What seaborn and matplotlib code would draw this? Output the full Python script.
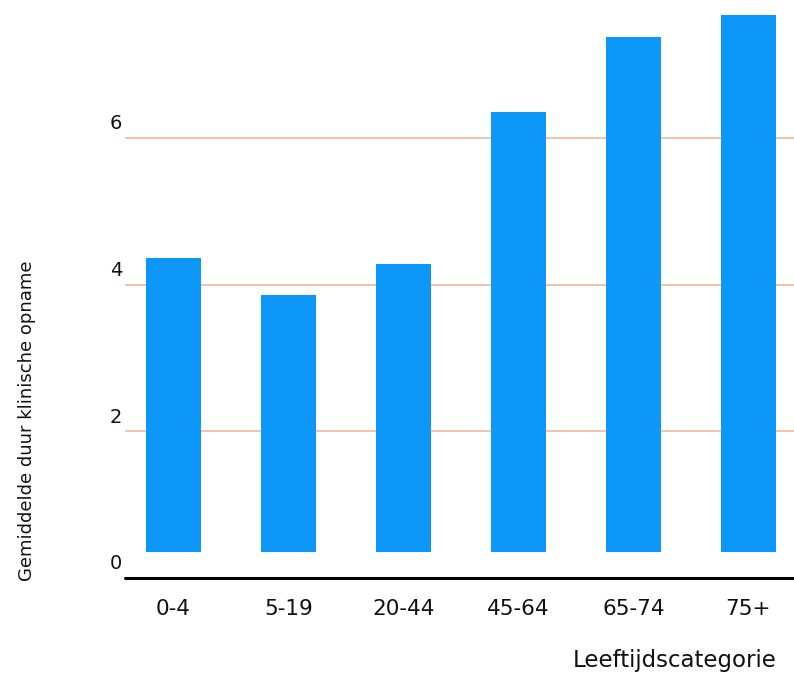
import matplotlib
matplotlib.use("Agg")
import matplotlib.pyplot as plt
import matplotlib.transforms as mtransforms
import pandas as pd
import seaborn as sns

# Average length of clinical admission per age group
categories = ["0-4", "5-19", "20-44", "45-64", "65-74", "75+"]
duration = [4.0, 3.5, 3.93, 6.0, 7.02, 7.32]
y_ticks = [0, 2, 4, 6]

bar_base = 0.355
bar_color = "#0C97F9"
grid_color = "#F5B797"

sns.set_theme(style="white")
plt.rcParams["font.family"] = ["DejaVu Sans"]

df = pd.DataFrame({"categorie": categories, "duur": duration})

fig = plt.figure(figsize=(7.94, 6.73), dpi=100)
ax = fig.add_axes([125 / 794, (673 - 577.7) / 673, (794 - 125) / 794, 577.7 / 673])

# reference lines behind the bars
for t in y_ticks[1:]:
    ax.axhline(t, color=grid_color, lw=1.2, zorder=0)

sns.barplot(data=df, x="categorie", y="duur", color=bar_color, width=0.47,
            errorbar=None, bottom=bar_base, saturation=1, linewidth=0,
            ax=ax, zorder=2)

ax.axhline(0, color="black", lw=2.2, zorder=3, clip_on=False)

ax.set_ylim(0, 577.7 / 73.3)
ax.set_xlim(-0.4217, -0.4217 + 669 / 115)

for s in ax.spines.values():
    s.set_visible(False)

ax.set_yticks(y_ticks)
ax.set_yticklabels([str(t) for t in y_ticks])
ax.tick_params(axis="y", length=0, pad=2.2, labelsize=14, labelcolor="#111111")
ax.tick_params(axis="x", length=0, pad=15.5, labelsize=15.5, labelcolor="#111111")
offset = mtransforms.ScaledTranslation(0, 16 / 100, fig.dpi_scale_trans)
for lab in ax.get_yticklabels():
    lab.set_transform(lab.get_transform() + offset)

ax.set_xlabel("Leeftijdscategorie", fontsize=16.5, color="#111111", ha="right", va="center")
ax.xaxis.set_label_coords((777 - 125) / 669, -(660 - 577.7) / 577.7)
ax.set_ylabel("Gemiddelde duur klinische opname", fontsize=13, color="#111111",
              ha="center", va="center")
ax.yaxis.set_label_coords((27 - 125) / 669, (577.7 - 421) / 577.7)

fig.savefig("out.png", dpi=100)
